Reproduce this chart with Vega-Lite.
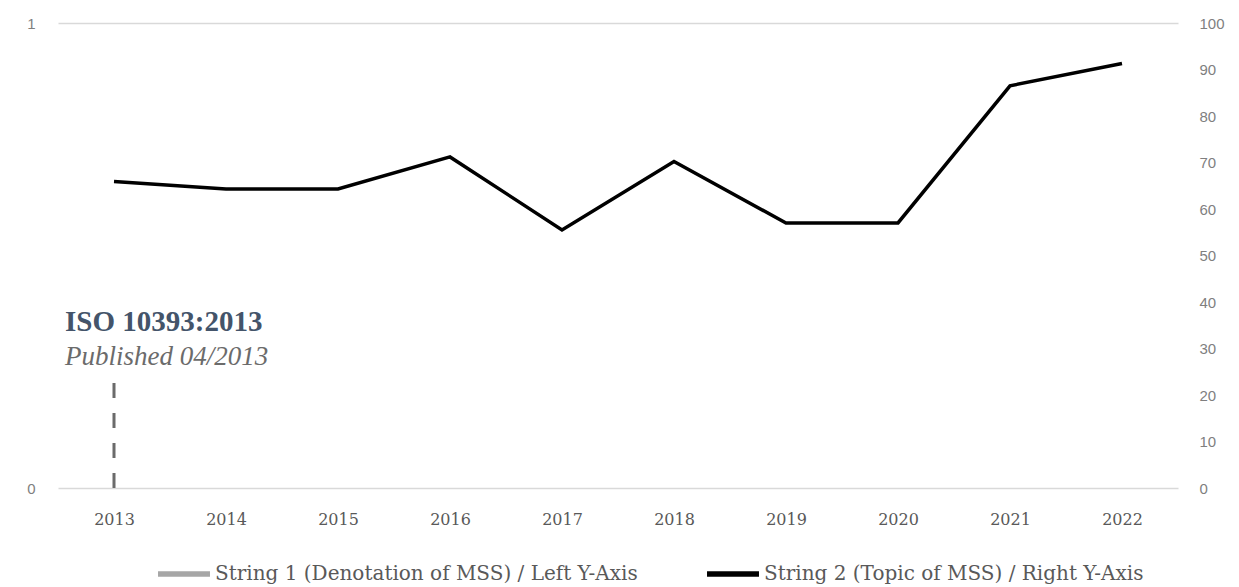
{
  "$schema": "https://vega.github.io/schema/vega-lite/v6.json",
  "width": 1120,
  "height": 465,
  "autosize": {"type": "none"},
  "padding": {"left": 58, "top": 23, "right": 61, "bottom": 99},
  "background": "white",
  "config": {
    "view": {"stroke": null},
    "font": "Liberation Serif",
    "axis": {"labelFont": "Liberation Sans", "labelFontSize": 15, "labelColor": "#7f7f7f", "ticks": false, "domain": false, "title": null}
  },
  "datasets": {
    "s2": [
      {"year": "2013", "value": 65.9, "series": "String 2 (Topic of MSS) / Right Y-Axis"},
      {"year": "2014", "value": 64.3, "series": "String 2 (Topic of MSS) / Right Y-Axis"},
      {"year": "2015", "value": 64.3, "series": "String 2 (Topic of MSS) / Right Y-Axis"},
      {"year": "2016", "value": 71.2, "series": "String 2 (Topic of MSS) / Right Y-Axis"},
      {"year": "2017", "value": 55.5, "series": "String 2 (Topic of MSS) / Right Y-Axis"},
      {"year": "2018", "value": 70.2, "series": "String 2 (Topic of MSS) / Right Y-Axis"},
      {"year": "2019", "value": 57.0, "series": "String 2 (Topic of MSS) / Right Y-Axis"},
      {"year": "2020", "value": 57.0, "series": "String 2 (Topic of MSS) / Right Y-Axis"},
      {"year": "2021", "value": 86.5, "series": "String 2 (Topic of MSS) / Right Y-Axis"},
      {"year": "2022", "value": 91.3, "series": "String 2 (Topic of MSS) / Right Y-Axis"}
    ],
    "s1": [
      {"year": "2013", "value": 0.226, "series": "String 1 (Denotation of MSS) / Left Y-Axis"}
    ],
    "notes": [
      {"year": "2013", "pos": 0.357, "label": "ISO 10393:2013", "kind": "title"},
      {"year": "2013", "pos": 0.281, "label": "Published 04/2013", "kind": "sub"}
    ]
  },
  "encoding": {
    "x": {
      "field": "year",
      "type": "ordinal",
      "scale": {"type": "point", "padding": 0.5, "domain": ["2013","2014","2015","2016","2017","2018","2019","2020","2021","2022"]},
      "axis": {"labelAngle": 0, "labelPadding": 23, "labelFont": "DejaVu Serif", "labelFontSize": 16, "labelColor": "#595959"}
    }
  },
  "layer": [
    {
      "layer": [
        {
          "data": {"name": "s1"},
          "mark": {"type": "rule", "strokeDash": [15, 15], "strokeWidth": 3, "color": "#6b6b6b"},
          "encoding": {
            "y": {"field": "value", "type": "quantitative", "scale": {"domain": [0, 1]},
              "axis": {"orient": "left", "values": [0, 1], "format": "d", "grid": true, "gridColor": "#d9d9d9", "gridWidth": 1.5, "labelPadding": 23}},
            "y2": {"datum": 0}
          }
        },
        {
          "data": {"name": "notes"},
          "transform": [{"filter": "datum.kind == 'title'"}],
          "mark": {"type": "text", "align": "left", "dx": -49, "fontSize": 29, "fontWeight": "bold", "color": "#44546a", "font": "Liberation Serif"},
          "encoding": {
            "y": {"field": "pos", "type": "quantitative", "scale": {"domain": [0, 1]}},
            "text": {"field": "label"}
          }
        },
        {
          "data": {"name": "notes"},
          "transform": [{"filter": "datum.kind == 'sub'"}],
          "mark": {"type": "text", "align": "left", "dx": -49, "fontSize": 27, "fontStyle": "italic", "color": "#6b6b6b", "font": "Liberation Serif"},
          "encoding": {
            "y": {"field": "pos", "type": "quantitative", "scale": {"domain": [0, 1]}},
            "text": {"field": "label"}
          }
        }
      ]
    },
    {
      "data": {"name": "s2"},
      "mark": {"type": "line", "strokeWidth": 3.5, "strokeJoin": "miter"},
      "encoding": {
        "y": {"field": "value", "type": "quantitative", "scale": {"domain": [0, 100]},
          "axis": {"orient": "right", "values": [0,10,20,30,40,50,60,70,80,90,100], "grid": false, "labelPadding": 21}},
        "color": {
          "field": "series",
          "type": "nominal",
          "scale": {"domain": ["String 1 (Denotation of MSS) / Left Y-Axis", "String 2 (Topic of MSS) / Right Y-Axis"], "range": ["#a6a6a6", "#000000"]},
          "legend": {"orient": "none", "legendX": 97, "legendY": 522, "direction": "horizontal", "title": null, "symbolType": "stroke", "symbolStrokeWidth": 5.5, "symbolSize": 2700, "labelFont": "DejaVu Serif", "labelFontSize": 20, "labelColor": "#595959", "labelLimit": 0, "columnPadding": 58, "labelOffset": 2}
        }
      }
    }
  ],
  "resolve": {"scale": {"y": "independent"}, "axis": {"y": "independent"}}
}
